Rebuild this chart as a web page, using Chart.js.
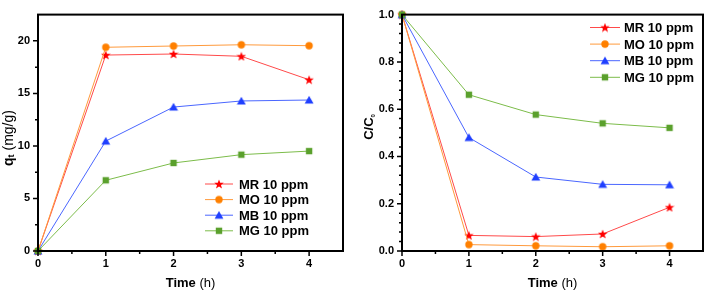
<!DOCTYPE html>
<html>
<head>
<meta charset="utf-8">
<script src="https://cdn.jsdelivr.net/npm/chart.js@4"></script>
<style>
  body { margin: 0; background: #fff; }
  #wrap { position: relative; width: 709px; height: 293px; }
  #qtChart { position: absolute; left: 0; top: 0; }
  #ccChart { position: absolute; left: 355px; top: 0; }
</style>
</head>
<body>
<div id="wrap">
  <canvas id="qtChart" width="355" height="293"></canvas>
  <canvas id="ccChart" width="354" height="293"></canvas>
</div>
<script>
// time points (h)
const times = [0, 1, 2, 3, 4];
const seriesNames = ['MR 10 ppm', 'MO 10 ppm', 'MB 10 ppm', 'MG 10 ppm'];

// left panel: q_t (mg/g)
const qtMR = [0, 18.65, 18.75, 18.53, 16.3];
const qtMO = [0, 19.39, 19.51, 19.63, 19.54];
const qtMB = [0, 10.46, 13.7, 14.28, 14.37];
const qtMG = [0, 6.73, 8.38, 9.17, 9.51];

// right panel: C/C0
const ccMR = [1, 0.066, 0.061, 0.072, 0.185];
const ccMO = [1, 0.027, 0.022, 0.018, 0.022];
const ccMB = [1, 0.48, 0.313, 0.282, 0.28];
const ccMG = [1, 0.661, 0.577, 0.54, 0.521];

const FONT = "'Liberation Sans', Arial, sans-serif";

function makeMarker(shape, color) {
  const c = document.createElement('canvas');
  c.width = 10; c.height = 10;
  const g = c.getContext('2d');
  g.fillStyle = color;
  g.beginPath();
  if (shape === 'circle') {
    g.arc(5, 5, 3.7, 0, Math.PI * 2);
  } else if (shape === 'square') {
    g.rect(1.8, 1.8, 6.4, 6.4);
  } else if (shape === 'triangle') {
    g.moveTo(5, 0.8); g.lineTo(9.4, 8.6); g.lineTo(0.6, 8.6); g.closePath();
  } else if (shape === 'star') {
    for (let i = 0; i < 10; i++) {
      const r = i % 2 === 0 ? 5 : 2.1;
      const a = -Math.PI / 2 + i * Math.PI / 5;
      const px = 5 + r * Math.cos(a), py = 5.4 + r * Math.sin(a);
      i === 0 ? g.moveTo(px, py) : g.lineTo(px, py);
    }
    g.closePath();
  }
  g.fill();
  return c;
}

const styles = [
  { line: '#ff4a4a', marker: makeMarker('star', '#ff0000') },
  { line: '#ff9a3c', marker: makeMarker('circle', '#ff8000') },
  { line: '#4a66ff', marker: makeMarker('triangle', '#1f3fff') },
  { line: '#7cbc4a', marker: makeMarker('square', '#5aa02c') }
];

function makeDatasets(arrays) {
  return arrays.map((arr, i) => ({
    label: seriesNames[i],
    data: times.map((t, j) => ({ x: t, y: arr[j] })),
    borderColor: styles[i].line,
    borderWidth: 1,
    pointStyle: styles[i].marker,
    pointRadius: 5,
    tension: 0,
    clip: false,
    order: 3 - i
  }));
}

function drawRich(ctx, parts, cx, cy) {
  let total = 0;
  parts.forEach(p => { ctx.font = p.font; total += ctx.measureText(p.t).width; });
  let x = cx - total / 2;
  ctx.textBaseline = 'middle';
  ctx.textAlign = 'left';
  parts.forEach(p => {
    ctx.font = p.font;
    ctx.fillText(p.t, x, cy + (p.dy || 0));
    x += ctx.measureText(p.t).width;
  });
}

const framePlugin = {
  id: 'frame',
  afterDraw(chart, args, o) {
    const { ctx, chartArea: a, scales } = chart;
    const xs = scales.x, ys = scales.y;
    ctx.save();
    ctx.strokeStyle = '#000';
    ctx.lineWidth = 2;
    ctx.strokeRect(a.left, a.top, a.right - a.left, a.bottom - a.top);

    // ticks (outward)
    ctx.lineWidth = 1.5;
    ctx.beginPath();
    let n = Math.round((xs.max - xs.min) / o.xMinor);
    for (let i = 0; i < n; i++) {
      const v = xs.min + i * o.xMinor;
      const major = Math.abs(v / o.xMajor - Math.round(v / o.xMajor)) < 1e-6;
      const px = xs.getPixelForValue(v);
      ctx.moveTo(px, a.bottom);
      ctx.lineTo(px, a.bottom + (major ? 5 : 3));
    }
    n = Math.round((ys.max - ys.min) / o.yMinor);
    for (let i = 0; i < n; i++) {
      const v = ys.min + i * o.yMinor;
      const major = Math.abs(v / o.yMajor - Math.round(v / o.yMajor)) < 1e-6;
      const py = ys.getPixelForValue(v);
      ctx.moveTo(a.left, py);
      ctx.lineTo(a.left - (major ? 5 : 3), py);
    }
    ctx.stroke();

    // axis titles
    ctx.fillStyle = '#000';
    drawRich(ctx, o.xTitle, (a.left + a.right) / 2, 283);
    ctx.save();
    ctx.translate(o.yTitleX, o.yTitleY);
    ctx.rotate(-Math.PI / 2);
    drawRich(ctx, o.yTitle, 0, 0);
    ctx.restore();

    // legend
    const L = o.legend;
    chart.data.datasets.forEach((ds, i) => {
      const y = L.y0 + i * L.dy;
      ctx.strokeStyle = ds.borderColor;
      ctx.lineWidth = 1;
      ctx.beginPath();
      ctx.moveTo(L.x1, y);
      ctx.lineTo(L.x2, y);
      ctx.stroke();
      const m = ds.pointStyle;
      ctx.drawImage(m, (L.x1 + L.x2) / 2 - m.width / 2, y - m.height / 2);
      ctx.font = 'bold 13px ' + FONT;
      ctx.textBaseline = 'middle';
      ctx.textAlign = 'left';
      ctx.fillStyle = '#000';
      ctx.fillText(ds.label, L.tx, y + 1);
    });
    ctx.restore();
  }
};

const bold13 = 'bold 13px ' + FONT;
const reg13 = '13px ' + FONT;

function makeOptions(cfg) {
  return {
    responsive: false,
    animation: false,
    layout: { padding: { top: 5, right: cfg.padRight, left: 0, bottom: 0 } },
    plugins: {
      legend: { display: false },
      tooltip: { enabled: false },
      frame: cfg.frame
    },
    scales: {
      x: {
        type: 'linear',
        min: 0,
        max: 4.5,
        grid: { display: false, drawTicks: false },
        border: { display: false },
        afterFit: s => { s.height = 42; },
        ticks: {
          stepSize: 1,
          includeBounds: false,
          padding: 6,
          color: '#000',
          font: { family: FONT, size: 11, weight: 'bold' },
          callback: v => Number.isInteger(v) ? String(v) : ''
        }
      },
      y: {
        min: 0,
        max: cfg.yMax,
        grid: { display: false, drawTicks: false },
        border: { display: false },
        afterFit: s => { s.width = cfg.yWidth; },
        ticks: {
          stepSize: cfg.yStep,
          includeBounds: false,
          padding: 8,
          color: '#000',
          font: { family: FONT, size: 11, weight: 'bold' },
          callback: cfg.yLabel
        }
      }
    }
  };
}

new Chart(document.getElementById('qtChart'), {
  type: 'line',
  data: { datasets: makeDatasets([qtMR, qtMO, qtMB, qtMG]) },
  options: makeOptions({
    padRight: 12,
    yMax: 22.5,
    yStep: 5,
    yWidth: 38,
    yLabel: v => (v % 5 === 0 ? String(v) : ''),
    frame: {
      xMinor: 0.5, xMajor: 1, yMinor: 2.5, yMajor: 5,
      xTitle: [{ t: 'Time', font: bold13 }, { t: ' (h)', font: reg13 }],
      yTitle: [{ t: 'q', font: 'bold 14px ' + FONT }, { t: 't', font: 'bold 9px ' + FONT, dy: 3 }, { t: ' (mg/g)', font: '14px ' + FONT }],
      yTitleX: 9, yTitleY: 138,
      legend: { x1: 205, x2: 233, tx: 239, y0: 184, dy: 15.6 }
    }
  }),
  plugins: [framePlugin]
});

new Chart(document.getElementById('ccChart'), {
  type: 'line',
  data: { datasets: makeDatasets([ccMR, ccMO, ccMB, ccMG]) },
  options: makeOptions({
    padRight: 1,
    yMax: 1.0,
    yStep: 0.2,
    yWidth: 47,
    yLabel: v => v.toFixed(1),
    frame: {
      xMinor: 0.5, xMajor: 1, yMinor: 0.04, yMajor: 0.2,
      xTitle: [{ t: 'Time', font: bold13 }, { t: ' (h)', font: reg13 }],
      yTitle: [{ t: 'C/C', font: bold13 }, { t: '0', font: 'bold 6px ' + FONT, dy: 4 }],
      yTitleX: 14, yTitleY: 127,
      legend: { x1: 235, x2: 265, tx: 269, y0: 27.5, dy: 16.6 }
    }
  }),
  plugins: [framePlugin]
});
</script>
</body>
</html>
